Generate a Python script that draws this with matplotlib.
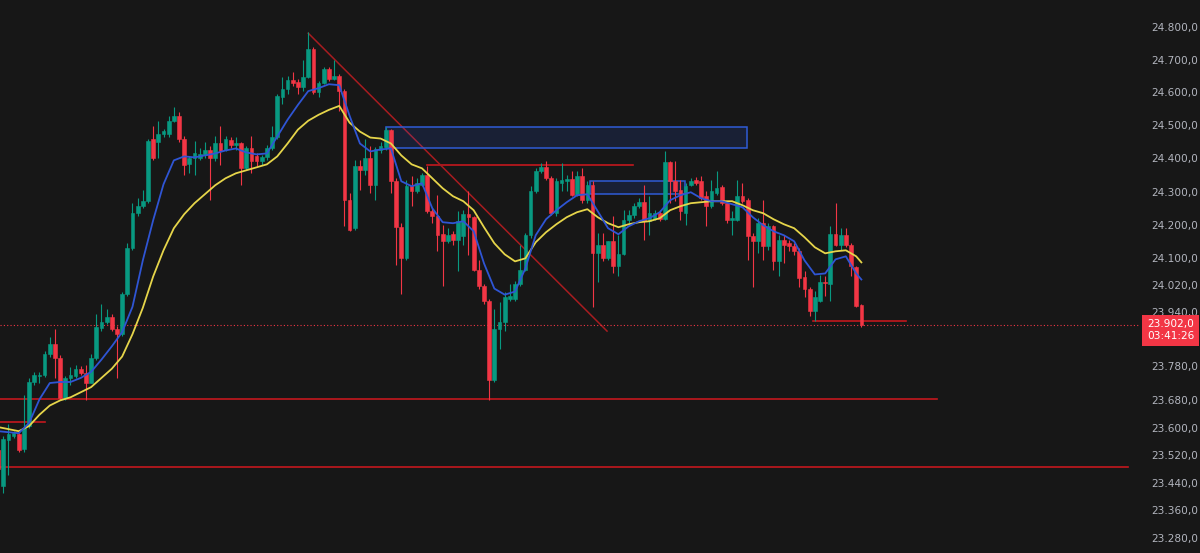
import matplotlib
matplotlib.use("Agg")
import matplotlib.pyplot as plt
from matplotlib.patches import Rectangle
from matplotlib.ticker import FixedLocator, NullLocator, FuncFormatter

plt.rcParams['font.family'] = ['DejaVu Sans']

# candles (one per bar, left to right)
opens = [
    23536, 23431, 23563, 23575, 23581, 23539, 23605, 23734, 23752, 23755,
    23815, 23845, 23806, 23686, 23746, 23752, 23773, 23761, 23731, 23806,
    23893, 23911, 23926, 23890, 23875, 23995, 24130, 24235, 24256, 24271,
    24460, 24451, 24475, 24475, 24514, 24529, 24460, 24382, 24400, 24400,
    24409, 24424, 24400, 24445, 24424, 24457, 24439, 24445, 24370, 24430,
    24406, 24391, 24403, 24430, 24466, 24586, 24610, 24637, 24631, 24616,
    24646, 24733, 24601, 24628, 24670, 24640, 24649, 24604, 24274, 24190,
    24376, 24364, 24400, 24319, 24424, 24433, 24487, 24331, 24193, 24100,
    24316, 24301, 24319, 24349, 24241, 24226, 24172, 24151, 24172, 24154,
    24166, 24232, 24223, 24064, 24019, 23974, 23740, 23890, 23911, 23980,
    23980, 24025, 24064, 24169, 24301, 24361, 24373, 24340, 24235, 24325,
    24331, 24337, 24289, 24346, 24274, 24319, 24115, 24139, 24100, 24151,
    24076, 24112, 24214, 24229, 24256, 24268, 24211, 24217, 24235, 24217,
    24388, 24331, 24304, 24235, 24319, 24334, 24331, 24286, 24256, 24295,
    24313, 24265, 24214, 24214, 24286, 24274, 24166, 24151, 24205, 24136,
    24196, 24091, 24154, 24145, 24136, 24121, 24043, 24010, 23944, 23974,
    24031, 24025, 24172, 24139, 24169, 24139, 24073, 23962]
highs = [
    23545, 23575, 23611, 23590, 23584, 23695, 23746, 23764, 23764, 23824,
    23866, 23890, 23812, 23752, 23779, 23785, 23782, 23785, 23815, 23935,
    23965, 23950, 23935, 23899, 24001, 24145, 24265, 24280, 24304, 24460,
    24499, 24514, 24490, 24529, 24556, 24541, 24469, 24406, 24454, 24430,
    24451, 24436, 24469, 24499, 24469, 24466, 24466, 24451, 24436, 24469,
    24415, 24409, 24439, 24499, 24595, 24646, 24649, 24661, 24640, 24700,
    24784, 24739, 24634, 24676, 24679, 24700, 24655, 24610, 24295, 24394,
    24394, 24460, 24436, 24433, 24451, 24496, 24490, 24340, 24205, 24334,
    24346, 24340, 24355, 24376, 24250, 24289, 24199, 24190, 24181, 24241,
    24244, 24301, 24226, 24094, 24025, 23980, 23950, 23971, 24001, 24025,
    24034, 24139, 24175, 24316, 24370, 24385, 24391, 24346, 24340, 24385,
    24349, 24361, 24361, 24370, 24331, 24331, 24175, 24175, 24151, 24226,
    24169, 24244, 24244, 24265, 24280, 24319, 24286, 24244, 24244, 24421,
    24391, 24391, 24334, 24325, 24340, 24343, 24346, 24301, 24334, 24361,
    24319, 24271, 24241, 24334, 24325, 24280, 24175, 24220, 24274, 24205,
    24199, 24169, 24169, 24154, 24145, 24130, 24061, 24016, 24004, 24049,
    24046, 24196, 24265, 24190, 24190, 24145, 24076, 23965]
lows = [
    23470, 23410, 23461, 23569, 23530, 23530, 23599, 23725, 23731, 23749,
    23809, 23746, 23680, 23680, 23725, 23746, 23755, 23680, 23731, 23800,
    23884, 23905, 23884, 23746, 23869, 23989, 24124, 24226, 24250, 24265,
    24394, 24400, 24466, 24466, 24511, 24451, 24349, 24355, 24349, 24394,
    24400, 24274, 24391, 24379, 24421, 24430, 24424, 24319, 24364, 24355,
    24376, 24379, 24394, 24424, 24460, 24565, 24595, 24619, 24595, 24604,
    24643, 24595, 24586, 24625, 24634, 24637, 24544, 24196, 24181, 24184,
    24304, 24349, 24295, 24274, 24415, 24424, 24295, 24079, 23995, 24094,
    24256, 24295, 24316, 24235, 24205, 24121, 24019, 24145, 24139, 24061,
    24139, 24109, 24061, 24010, 23965, 23680, 23734, 23830, 23884, 23974,
    23974, 24019, 24061, 24160, 24295, 24355, 24334, 24229, 24226, 24301,
    24301, 24286, 24286, 24265, 24265, 23956, 24031, 24091, 24094, 24055,
    24046, 24109, 24205, 24220, 24250, 24154, 24169, 24214, 24211, 24214,
    24265, 24271, 24214, 24199, 24316, 24319, 24274, 24196, 24250, 24289,
    24259, 24205, 24169, 24211, 24265, 24094, 24016, 24115, 24094, 24124,
    24064, 24046, 24085, 24121, 24109, 24016, 23986, 23929, 23914, 23971,
    23989, 23974, 24136, 24124, 24133, 24046, 23956, 23895]
closes = [
    23479, 23566, 23581, 23584, 23536, 23599, 23734, 23755, 23755, 23815,
    23845, 23806, 23686, 23746, 23755, 23773, 23761, 23731, 23806, 23896,
    23911, 23926, 23890, 23875, 23995, 24130, 24235, 24256, 24271, 24454,
    24400, 24475, 24484, 24514, 24529, 24460, 24379, 24400, 24415, 24412,
    24424, 24400, 24445, 24421, 24460, 24439, 24445, 24370, 24430, 24391,
    24391, 24403, 24430, 24466, 24589, 24610, 24637, 24628, 24616, 24646,
    24733, 24601, 24628, 24670, 24640, 24649, 24604, 24274, 24184, 24376,
    24364, 24400, 24319, 24427, 24436, 24487, 24331, 24193, 24100, 24316,
    24301, 24325, 24349, 24241, 24226, 24169, 24151, 24169, 24154, 24211,
    24232, 24223, 24064, 24019, 23974, 23740, 23890, 23911, 23986, 23989,
    24025, 24064, 24169, 24301, 24361, 24373, 24340, 24235, 24331, 24334,
    24337, 24289, 24346, 24274, 24319, 24115, 24139, 24100, 24151, 24076,
    24112, 24214, 24229, 24256, 24268, 24211, 24235, 24235, 24217, 24388,
    24331, 24301, 24241, 24316, 24331, 24325, 24280, 24256, 24301, 24310,
    24265, 24214, 24220, 24286, 24271, 24166, 24151, 24205, 24136, 24196,
    24091, 24154, 24139, 24136, 24121, 24040, 24010, 23944, 23986, 24031,
    24028, 24172, 24139, 24169, 24139, 24076, 23959, 23902]

# moving averages read every second bar (plus the last one)
ma_idx = list(range(0, 168, 2)) + [167]
ma_fast = [
    23590, 23587, 23584, 23614, 23683, 23731, 23734, 23734, 23746, 23764,
    23800, 23839, 23881, 23956, 24094, 24214, 24322, 24394, 24406, 24403,
    24409, 24415, 24424, 24430, 24418, 24412, 24415, 24466, 24517, 24562,
    24604, 24613, 24625, 24622, 24529, 24445, 24421, 24427, 24430, 24331,
    24316, 24325, 24250, 24208, 24205, 24211, 24181, 24085, 24010, 23992,
    24001, 24070, 24169, 24217, 24244, 24268, 24289, 24292, 24241, 24190,
    24172, 24196, 24211, 24220, 24238, 24274, 24289, 24298, 24280, 24271,
    24271, 24262, 24253, 24223, 24199, 24181, 24169, 24151, 24094, 24052,
    24055, 24097, 24106, 24055, 24037]
ma_slow = [
    23602, 23596, 23590, 23605, 23638, 23665, 23680, 23689, 23704, 23719,
    23746, 23773, 23809, 23875, 23953, 24046, 24124, 24190, 24232, 24265,
    24292, 24319, 24340, 24355, 24364, 24373, 24382, 24406, 24445, 24487,
    24514, 24532, 24547, 24559, 24508, 24481, 24463, 24460, 24445, 24409,
    24382, 24370, 24340, 24310, 24286, 24271, 24244, 24193, 24145, 24112,
    24091, 24100, 24148, 24178, 24202, 24223, 24238, 24247, 24223, 24205,
    24193, 24202, 24208, 24211, 24220, 24244, 24256, 24265, 24268, 24271,
    24271, 24271, 24259, 24244, 24235, 24217, 24202, 24190, 24163, 24133,
    24115, 24121, 24124, 24106, 24088]

# drawings: (bar from, bar to, price)
levels = [(0, 181.6, 23683), (0, 218.5, 23485), (0, 9.1, 23617),
          (83, 122.8, 24379), (157.6, 175.6, 23914)]
trend = [(60, 24781), (117.8, 23884)]
boxes = [(75.0, 144.9, 24430, 24496), (114.5, 132.9, 24292, 24331)]
last_price = 23902
countdown = "03:41:26"
price_ticks = [24800, 24700, 24600, 24500, 24400, 24300, 24200, 24100, 24020,
               23940, 23780, 23680, 23600, 23520, 23440, 23360, 23280]

bg = '#171717'
up = '#089981'
down = '#f23645'
line_red = '#c3171e'


def price_fmt(v, pos=None):
    return f"{v:,.1f}".replace(",", "X").replace(".", ",").replace("X", ".")


fig = plt.figure(figsize=(12, 5.53), dpi=100, facecolor=bg)
ax = fig.add_axes([0, 0, 0.95, 1])
ax.set_facecolor(bg)
ax.set_yscale('log')
ax.set_ylim(23237, 24883)
ax.set_xlim(0.37, 220.9)

x = list(range(len(closes)))
cols = [up if c >= o else down for o, c in zip(opens, closes)]
bottoms = [min(o, c) for o, c in zip(opens, closes)]
heights = [abs(c - o) for o, c in zip(opens, closes)]

ax.vlines(x, lows, highs, colors=cols, linewidth=0.8, zorder=2)
ax.bar(x, heights, bottom=bottoms, width=0.72, color=cols, edgecolor=cols,
       linewidth=0.4, zorder=3)

ax.plot(ma_idx, ma_slow, color='#e6d54a', linewidth=1.3, zorder=4)
ax.plot(ma_idx, ma_fast, color='#2f55d4', linewidth=1.3, zorder=4)

for x0, x1, p in levels:
    ax.plot([x0, x1], [p, p], color=line_red, linewidth=1.2, zorder=1)
ax.plot([trend[0][0], trend[1][0]], [trend[0][1], trend[1][1]],
        color='#a81c20', linewidth=1.1, zorder=1)

for x0, x1, p0, p1 in boxes:
    ax.add_patch(Rectangle((x0, p0), x1 - x0, p1 - p0, facecolor=(0.16, 0.38, 1.0, 0.13),
                           edgecolor='#2f5bd6', linewidth=1.1, zorder=1))

ax.axhline(last_price, color=down, linestyle=(0, (1, 2)), linewidth=0.8, zorder=1)

ax.yaxis.tick_right()
ax.yaxis.set_major_locator(FixedLocator(price_ticks))
ax.yaxis.set_minor_locator(NullLocator())
ax.yaxis.set_major_formatter(FuncFormatter(price_fmt))
ax.tick_params(axis='y', length=0, pad=8, labelcolor='#b2b5be', labelsize=7.6)
ax.tick_params(axis='x', bottom=False, labelbottom=False)
for s in ax.spines.values():
    s.set_visible(False)

ax.annotate(price_fmt(last_price) + "\n" + countdown, xy=(1.0, last_price),
            xycoords=ax.get_yaxis_transform(), xytext=(5, -3.8),
            textcoords='offset points', ha='left', va='center', fontsize=7.6,
            color='white', linespacing=1.2, annotation_clip=False,
            bbox=dict(boxstyle='square,pad=0.45', fc=down, ec='none'))

fig.savefig('out.png', dpi=100, facecolor=bg)
